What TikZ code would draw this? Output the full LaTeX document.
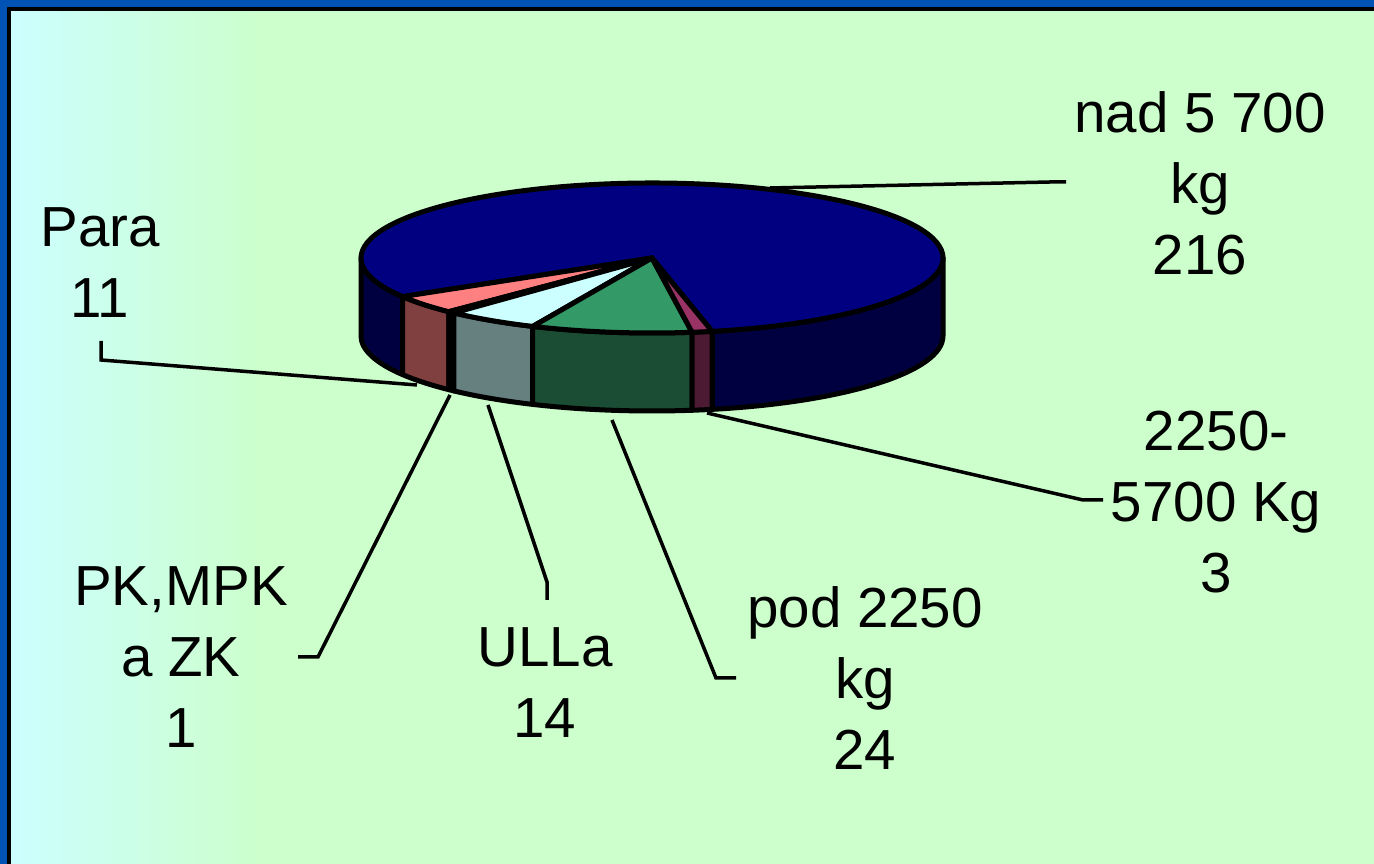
\documentclass[tikz,border=0pt]{standalone}
\usepackage{fontspec}
\setmainfont{Liberation Sans}
\usepackage{tikz}
\definecolor{frameblue}{HTML}{0052B4}
\definecolor{bgcyan}{HTML}{CCFFFF}
\definecolor{bggreen}{HTML}{CCFFCC}
\definecolor{nadTop}{HTML}{000080}
\definecolor{nadSide}{HTML}{000040}
\definecolor{paraTop}{HTML}{FF8080}
\definecolor{paraSide}{HTML}{804040}
\definecolor{pkTop}{HTML}{FFFFCC}
\definecolor{pkSide}{HTML}{808066}
\definecolor{ullaTop}{HTML}{CCFFFF}
\definecolor{ullaSide}{HTML}{668080}
\definecolor{podTop}{HTML}{339966}
\definecolor{podSide}{HTML}{1A4D33}
\definecolor{midTop}{HTML}{993366}
\definecolor{midSide}{HTML}{4D1A33}
\tikzset{
	pie edge/.style={
		draw=black,
		line width=5pt,
		line join=round
	},
	pie label/.style={
		align=center,
		anchor=base,
		inner sep=0pt,
		font=\fontsize{56.5}{71}\selectfont
	},
	leader/.style={
		draw=black,
		line width=3.5pt
	},
}

\begin{document}
\begin{tikzpicture}[x=1pt, y=1pt]

\useasboundingbox (0,0) rectangle (1374,864);

% frame and background
\fill [frameblue] (0,0) rectangle (1374,864);
\fill [bggreen] (9,0) rectangle (1374,855);
\shade [left color=bgcyan, right color=bggreen] (9,0) rectangle (260,855);
\draw [line width=3.5pt] (9,0) -- (9,855) -- (1374,855);

% pie
\begin{scope}[shift={(652,606)}]
\foreach \a/\b/\c in {281.93/360/nadSide, 180/211/nadSide, 211/225.72/paraSide,
	225.72/227.06/pkSide, 227.06/245.80/ullaSide, 245.80/277.92/podSide,
	277.92/281.93/midSide}
	\draw [pie edge, fill=\c] (\a:291 and 75)
		arc [start angle=\a, end angle=\b, x radius=291, y radius=75]
		-- ++(0,-78)
		arc [start angle=\b, end angle=\a, x radius=291, y radius=75] -- cycle;

\foreach \a/\b/\c in {281.93/571/nadTop, 211/225.72/paraTop, 225.72/227.06/pkTop,
	227.06/245.80/ullaTop, 245.80/277.92/podTop, 277.92/281.93/midTop}
	\draw [pie edge, fill=\c] (0,0) -- (\a:291 and 75)
		arc [start angle=\a, end angle=\b, x radius=291, y radius=75] -- cycle;
\end{scope}

% labels (anchored at the baseline of their last line)
\node [pie label] (lbl-nad) at (1200,589) {nad 5 700\\kg\\216};
\node [pie label] (lbl-para) at (100,546) {Para\\11};
\node [pie label] (lbl-pk) at (181,116) {PK,MPK\\a ZK\\1};
\node [pie label] (lbl-ulla) at (545,126) {ULLa\\14};
\node [pie label] (lbl-pod) at (865,94) {pod 2250\\kg\\24};
\node [pie label] (lbl-mid) at (1216,271) {2250-\\5700 Kg\\3};

% leader lines
\coordinate (pt-nad) at (770,676);
\coordinate (elb-nad) at (1050,682);
\coordinate (end-nad) at (1066,682);
\coordinate (pt-para) at (417,479);
\coordinate (elb-para) at (101,504);
\coordinate (end-para) at (101,523);
\coordinate (pt-pk) at (450,469);
\coordinate (elb-pk) at (318,207);
\coordinate (end-pk) at (298,207);
\coordinate (pt-ulla) at (488,459);
\coordinate (elb-ulla) at (547,282);
\coordinate (end-ulla) at (547,264);
\coordinate (pt-pod) at (612,444);
\coordinate (elb-pod) at (716,186);
\coordinate (end-pod) at (736,186);
\coordinate (pt-mid) at (707,451);
\coordinate (elb-mid) at (1083,364);
\coordinate (end-mid) at (1103,364);

\foreach \s in {nad,para,pk,ulla,pod,mid}
	\draw [leader] (pt-\s) -- (elb-\s) -- (end-\s);

\end{tikzpicture}
\end{document}
